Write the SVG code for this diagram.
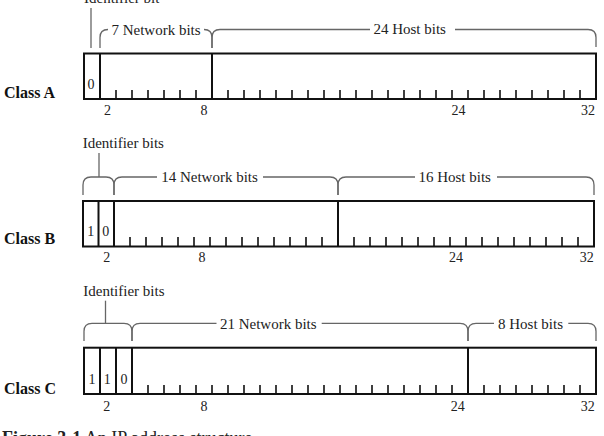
<svg xmlns="http://www.w3.org/2000/svg" width="604" height="436" viewBox="0 0 604 436">
<style>
text{font-family:"Liberation Serif","Times New Roman",serif;fill:#222}
.lbl{font-size:15px}
.num{font-size:14px;text-anchor:middle}
.cls{font-size:16px;font-weight:bold;fill:#111}
.box{fill:none;stroke:#111;stroke-width:2}
.cell{stroke:#111;stroke-width:2}
.tick{stroke:#111;stroke-width:1.6}
.brace{fill:none;stroke:#666;stroke-width:1.3}
.cap{font-size:18px}
</style>
<rect width="604" height="436" fill="#fff"/>

<g id="classA">
<text class="cls" x="4" y="97.5">Class A</text>
<rect class="box" x="84" y="53.5" width="512" height="45.5"/>
<line class="cell" x1="100" y1="53.5" x2="100" y2="99"/>
<line class="cell" x1="212" y1="53.5" x2="212" y2="99"/>
<path class="tick" d="M116,90V99M132,90V99M148,90V99M164,90V99M180,90V99M196,90V99M228,90V99M244,90V99M260,90V99M276,90V99M292,90V99M308,90V99M324,90V99M340,90V99M356,90V99M372,90V99M388,90V99M404,90V99M420,90V99M436,90V99M452,90V99M468,90V99M484,90V99M500,90V99M516,90V99M532,90V99M548,90V99M564,90V99M580,90V99"/>
<text class="num" x="91" y="88.5">0</text>
<text class="num" x="107.5" y="115">2</text>
<text class="num" x="204" y="115">8</text>
<text class="num" x="458.5" y="115">24</text>
<text class="num" x="588" y="115">32</text>
<text class="lbl" x="84" y="3">Identifier bit</text>
<text class="lbl" x="156" y="34.5" text-anchor="middle">7 Network bits</text>
<text class="lbl" x="409.7" y="34" text-anchor="middle">24 Host bits</text>
</g>

<g id="classB">
<text class="cls" x="4" y="244.3">Class B</text>
<rect class="box" x="83" y="201" width="511" height="45.5"/>
<line class="cell" x1="98.5" y1="201" x2="98.5" y2="246.5"/>
<line class="cell" x1="114" y1="201" x2="114" y2="246.5"/>
<line class="cell" x1="338" y1="201" x2="338" y2="246.5"/>
<path class="tick" d="M130,237V246.5M146,237V246.5M162,237V246.5M178,237V246.5M194,237V246.5M210,237V246.5M226,237V246.5M242,237V246.5M258,237V246.5M274,237V246.5M290,237V246.5M306,237V246.5M322,237V246.5M354,237V246.5M370,237V246.5M386,237V246.5M402,237V246.5M418,237V246.5M434,237V246.5M450,237V246.5M466,237V246.5M482,237V246.5M498,237V246.5M514,237V246.5M530,237V246.5M546,237V246.5M562,237V246.5M578,237V246.5"/>
<text class="num" x="90.7" y="235.7">1</text>
<text class="num" x="105.7" y="235.7">0</text>
<text class="num" x="106.7" y="262">2</text>
<text class="num" x="202" y="262">8</text>
<text class="num" x="456" y="262">24</text>
<text class="num" x="586.7" y="262">32</text>
<text class="lbl" x="82.7" y="148">Identifier bits</text>
<text class="lbl" x="209.5" y="182" text-anchor="middle">14 Network bits</text>
<text class="lbl" x="454.7" y="182" text-anchor="middle">16 Host bits</text>
</g>

<g id="classC">
<text class="cls" x="4" y="394">Class C</text>
<rect class="box" x="84" y="347.7" width="512" height="46.3"/>
<line class="cell" x1="100" y1="347.7" x2="100" y2="394"/>
<line class="cell" x1="116" y1="347.7" x2="116" y2="394"/>
<line class="cell" x1="132" y1="347.7" x2="132" y2="394"/>
<line class="cell" x1="468" y1="347.7" x2="468" y2="394"/>
<path class="tick" d="M148,385V394M164,385V394M180,385V394M196,385V394M212,385V394M228,385V394M244,385V394M260,385V394M276,385V394M292,385V394M308,385V394M324,385V394M340,385V394M356,385V394M372,385V394M388,385V394M404,385V394M420,385V394M436,385V394M452,385V394M484,385V394M500,385V394M516,385V394M532,385V394M548,385V394M564,385V394M580,385V394"/>
<text class="num" x="92" y="383.7">1</text>
<text class="num" x="107.3" y="383.7">1</text>
<text class="num" x="124" y="383.7">0</text>
<text class="num" x="106.7" y="410.5">2</text>
<text class="num" x="204" y="410.5">8</text>
<text class="num" x="457.7" y="410.5">24</text>
<text class="num" x="587.7" y="410.5">32</text>
<text class="lbl" x="83.3" y="296">Identifier bits</text>
<text class="lbl" x="268.3" y="328.5" text-anchor="middle">21 Network bits</text>
<text class="lbl" x="530.5" y="328.5" text-anchor="middle">8 Host bits</text>
</g>

<g id="connectors">
<path class="brace" d="M91,8V48"/>
<path class="brace" d="M100,48V37.5Q100,29.5 108,29.5M204,29.5Q212,29.5 212,37.5V48"/>
<path class="brace" d="M212,48V37.5Q212,29.5 220,29.5H370M455,29.5H588Q596,29.5 596,37.5V47"/>

<path class="brace" d="M99,153V177"/>
<path class="brace" d="M83,195V185Q83,177 91,177H106Q114,177 114,185V195"/>
<path class="brace" d="M114,195V185Q114,177 122,177H157M263,177H330Q338,177 338,185V195"/>
<path class="brace" d="M338,195V185Q338,177 346,177H415M497,177H586Q594,177 594,185V195"/>

<path class="brace" d="M105.5,300.7V323.3"/>
<path class="brace" d="M84,341V331.3Q84,323.3 92,323.3H124Q132,323.3 132,331.3V341"/>
<path class="brace" d="M132,341V331.3Q132,323.3 140,323.3H216.5M321.7,323.3H460Q468,323.3 468,331.3V341"/>
<path class="brace" d="M468,341V331.3Q468,323.3 476,323.3H494M568.3,323.3H588Q596,323.3 596,331.3V341"/>
</g>

<g id="caption">
<text class="cap" x="2" y="444"><tspan font-weight="bold">Figure 3-1</tspan>  An IP address structure</text>
</g>
</svg>
